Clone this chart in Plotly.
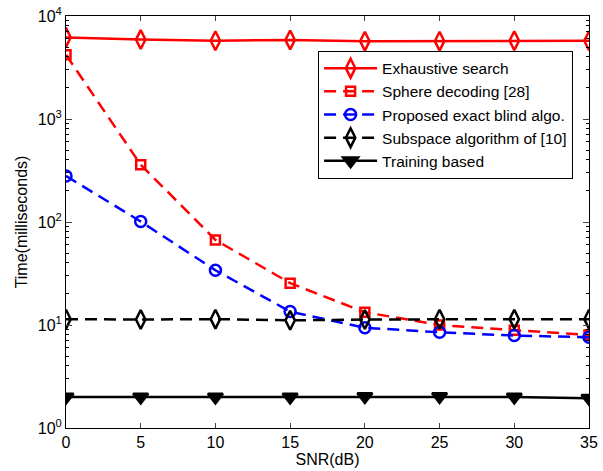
import plotly.graph_objects as go

snr = [0, 5, 10, 15, 20, 25, 30, 35]
exhaustive = [6200, 5900, 5750, 5850, 5700, 5700, 5750, 5750]
sphere = [4200, 360, 67, 25.5, 13.3, 10.0, 8.9, 8.0]
proposed = [280, 101, 34, 13.5, 9.4, 8.5, 7.9, 7.6]
subspace = [11.4, 11.3, 11.4, 11.1, 11.3, 11.4, 11.4, 11.4]
training = [2.0, 2.0, 2.0, 2.0, 2.02, 2.02, 2.0, 1.95]

names = ["Exhaustive search", "Sphere decoding [28]", "Proposed exact blind algo.",
         "Subspace algorithm of [10]", "Training based"]
ytickvals = [1, 10, 100, 1000, 10000]
yticktext = ["10<sup>0</sup>", "10<sup>1</sup>", "10<sup>2</sup>", "10<sup>3</sup>", "10<sup>4</sup>"]
xtickvals = [0, 5, 10, 15, 20, 25, 30, 35]

minor_vals = [m * 10 ** d for d in range(4) for m in range(2, 10)]

fig = go.Figure()
series = [
    (exhaustive, names[0], "red", "solid", "diamond-tall-open", 13.5),
    (sphere, names[1], "red", "12px,7px", "square-open", 9),
    (proposed, names[2], "blue", "12px,7px", "circle-open", 11),
    (subspace, names[3], "black", "12px,7px", "diamond-tall-open", 13.5),
    (training, names[4], "black", "solid", "triangle-down", 13),
]
for ys, nm, col, dash, sym, sz in series:
    fig.add_trace(go.Scatter(
        x=snr, y=ys, name=nm, mode="lines+markers",
        line=dict(color=col, width=2.5, dash=dash),
        marker=dict(symbol=sym, size=sz, color=col, line=dict(color=col, width=2.5)),
    ))

fig.update_layout(
    width=603, height=471,
    margin=dict(l=66, r=14, t=16, b=43),
    paper_bgcolor="white", plot_bgcolor="white",
    font=dict(family="Liberation Sans, Arial, sans-serif", size=16, color="black"),
    legend=dict(
        x=0.482, y=0.916, xanchor="left", yanchor="top",
        bgcolor="white", bordercolor="black", borderwidth=1,
        font=dict(size=15.5), itemwidth=53,
    ),
    showlegend=True,
)
fig.update_xaxes(
    range=[0, 35], tickvals=xtickvals, ticks="inside", ticklen=5,
    showline=True, linecolor="black", linewidth=1, mirror="ticks",
    showgrid=False, zeroline=False, ticklabeloverflow="allow", automargin=False,
    title=dict(text="SNR(dB)", standoff=2, font=dict(size=16)),
    tickfont=dict(size=16),
)
fig.update_yaxes(
    type="log", range=[0, 4], tickvals=ytickvals, ticktext=yticktext,
    ticks="inside", ticklen=6, ticklabeloverflow="allow", automargin=False,
    minor=dict(tickvals=minor_vals, ticks="inside", ticklen=3, showgrid=False, tickcolor="black"),
    showline=True, linecolor="black", linewidth=1, mirror="ticks",
    showgrid=False, zeroline=False,
    title=dict(text="Time(milliseconds)", standoff=6, font=dict(size=16)),
    tickfont=dict(size=16),
)
fig.write_html(
    "out.html",
    config={"displayModeBar": False},
    post_script="document.body.style.margin='0';document.body.style.overflow='hidden';",
)
